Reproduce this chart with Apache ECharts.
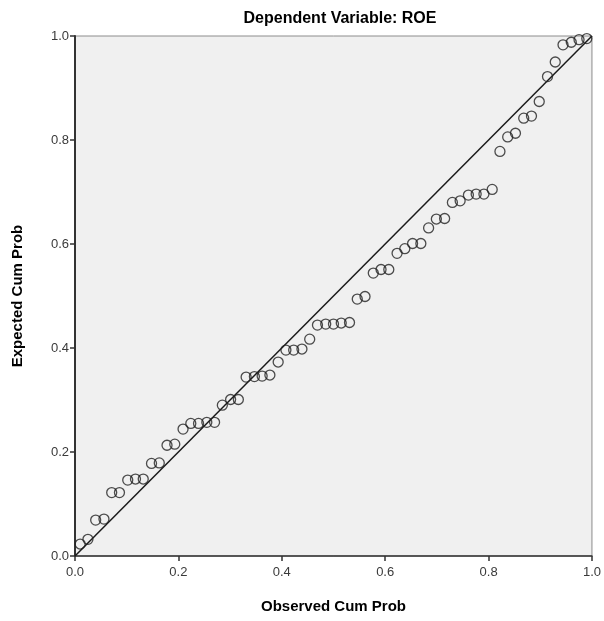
<!DOCTYPE html>
<html>
<head>
<meta charset="utf-8">
<script src="https://cdn.jsdelivr.net/npm/echarts@6/dist/echarts.min.js"></script>
<style>
html,body{margin:0;padding:0;background:#fff;}
#chart{width:604px;height:621px;}
</style>
</head>
<body>
<div id="chart"></div>
<script>
const titleText = "Dependent Variable: ROE";
const xAxisName = "Observed Cum Prob";
const yAxisName = "Expected Cum Prob";
const observedCumProb = [
  0.010, 0.025, 0.040, 0.056, 0.071, 0.086, 0.102, 0.117, 0.132, 0.148,
  0.163, 0.178, 0.193, 0.209, 0.224, 0.239, 0.255, 0.270, 0.285, 0.301,
  0.316, 0.331, 0.347, 0.362, 0.377, 0.393, 0.408, 0.423, 0.439, 0.454,
  0.469, 0.485, 0.500, 0.515, 0.531, 0.546, 0.561, 0.577, 0.592, 0.607,
  0.623, 0.638, 0.653, 0.669, 0.684, 0.699, 0.715, 0.730, 0.745, 0.761,
  0.776, 0.791, 0.807, 0.822, 0.837, 0.852, 0.868, 0.883, 0.898, 0.914,
  0.929, 0.944, 0.960, 0.975, 0.990
];
const expectedCumProb = [
  0.023, 0.032, 0.069, 0.071, 0.122, 0.122, 0.146, 0.148, 0.148, 0.178,
  0.179, 0.213, 0.215, 0.244, 0.255, 0.255, 0.257, 0.257, 0.290, 0.301,
  0.301, 0.344, 0.345, 0.346, 0.348, 0.373, 0.396, 0.396, 0.398, 0.417,
  0.444, 0.446, 0.446, 0.448, 0.449, 0.494, 0.499, 0.544, 0.551, 0.551,
  0.582, 0.591, 0.601, 0.601, 0.631, 0.648, 0.649, 0.680, 0.683, 0.694,
  0.696, 0.696, 0.705, 0.778, 0.806, 0.813, 0.842, 0.846, 0.874, 0.922,
  0.950, 0.983, 0.988, 0.993, 0.995
];
const refLine = [[0, 0], [1, 1]];

const points = observedCumProb.map((x, i) => [x, expectedCumProb[i]]);
const font = "'Liberation Sans', Arial, sans-serif";

const chart = echarts.init(document.getElementById('chart'), null, {renderer: 'canvas'});
chart.setOption({
  animation: false,
  backgroundColor: '#ffffff',
  title: {
    text: titleText,
    left: 335, top: 6, textAlign: 'center',
    textStyle: {fontFamily: font, fontSize: 16, fontWeight: 'bold', color: '#000'}
  },
  grid: {
    left: 75, right: 8, top: 36, bottom: 65,
    show: true, backgroundColor: '#f0f0f0', borderColor: '#8c8c8c', borderWidth: 1
  },
  xAxis: {
    type: 'value', min: 0, max: 1, interval: 0.2,
    name: xAxisName, nameLocation: 'middle', nameGap: 43,
    nameTextStyle: {fontFamily: font, fontSize: 15, fontWeight: 'bold', color: '#000'},
    axisLine: {show: true, onZero: false, lineStyle: {color: '#333', width: 1.5}},
    axisTick: {show: true, length: 5, lineStyle: {color: '#333', width: 1.5}},
    axisLabel: {fontFamily: font, fontSize: 13, color: '#3a3a3a', margin: 10,
      formatter: v => v.toFixed(1)},
    splitLine: {show: false}
  },
  yAxis: {
    type: 'value', min: 0, max: 1, interval: 0.2,
    name: yAxisName, nameLocation: 'middle', nameGap: 50,
    nameTextStyle: {fontFamily: font, fontSize: 15, fontWeight: 'bold', color: '#000'},
    axisLine: {show: true, onZero: false, lineStyle: {color: '#333', width: 2}},
    axisTick: {show: true, length: 5, lineStyle: {color: '#333', width: 1.5}},
    axisLabel: {fontFamily: font, fontSize: 13, color: '#3a3a3a', margin: 6,
      formatter: v => v.toFixed(1)},
    splitLine: {show: false}
  },
  series: [
    {
      type: 'line', data: refLine, symbol: 'none', silent: true,
      lineStyle: {color: '#1a1a1a', width: 1.5}, z: 2
    },
    {
      type: 'scatter', data: points, symbol: 'circle', symbolSize: 10,
      itemStyle: {color: 'rgba(0,0,0,0)', borderColor: '#222', borderWidth: 1.3}, z: 3
    }
  ]
});
</script>
</body>
</html>
